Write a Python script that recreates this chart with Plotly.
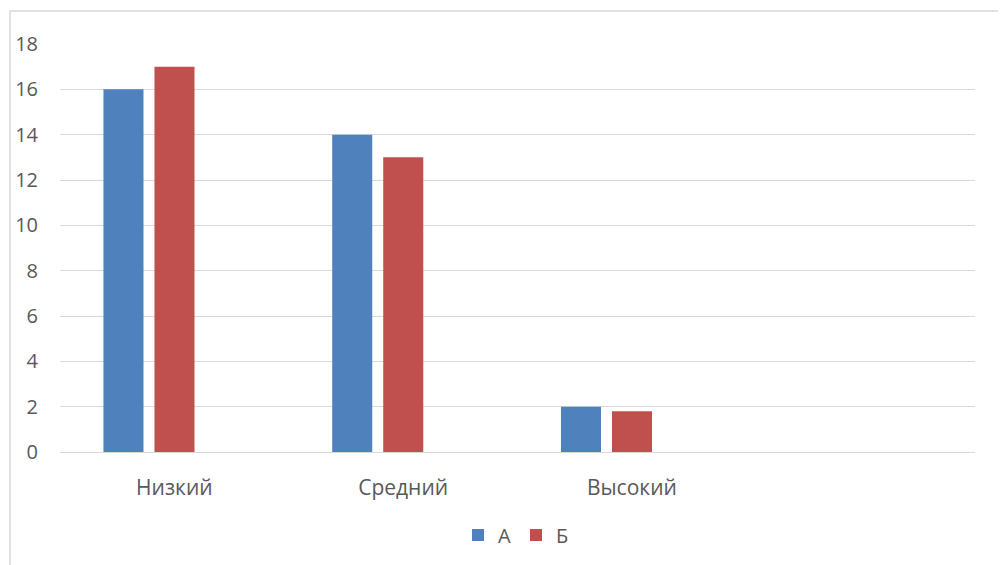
import plotly.graph_objects as go

categories = ["Низкий", "Средний", "Высокий"]
series_a = [16, 14, 2]
series_b = [17, 13, 1.8]
y_ticks = [0, 2, 4, 6, 8, 10, 12, 14, 16, 18]

OFF = 8  # page body margin
W, H = 1006 - OFF, 565 - OFF
L, T = 60 - OFF, 44 - OFF
R = W - (975 - OFF)
B = H - (452 - OFF)
pw, ph = W - L - R, H - T - B

fig = go.Figure()
fig.add_trace(go.Bar(name="А", x=categories, y=series_a, marker_color="#4F81BD",
                     marker_line_width=0, width=0.175, offset=-0.31))
fig.add_trace(go.Bar(name="Б", x=categories, y=series_b, marker_color="#C0504D",
                     marker_line_width=0, width=0.175, offset=-0.087))

def px_x(p):
    return (p - OFF - L) / pw

def px_y(p):
    return (H - B - (p - OFF)) / ph

fig.add_shape(type="rect", xref="paper", yref="paper",
              x0=px_x(10), x1=px_x(1020), y0=px_y(11), y1=px_y(590),
              line=dict(color="#d9d9d9", width=1.5), fillcolor="rgba(0,0,0,0)", layer="below")

fig.update_layout(
    width=W, height=H,
    margin=dict(l=L, r=R, t=T, b=B, autoexpand=False),
    paper_bgcolor="white", plot_bgcolor="white",
    font=dict(family="Open Sans, Noto Sans, sans-serif", size=21, color="#595959"),
    showlegend=True,
    legend=dict(orientation="h", x=px_x(516), xanchor="center", y=px_y(535), yanchor="middle",
                font=dict(size=20, color="#595959"), itemwidth=30, traceorder="normal"),
    xaxis=dict(type="category", categoryorder="array", categoryarray=categories,
               range=[-0.5, 3.5], showgrid=False, showline=False, zeroline=False,
               automargin=False,
               ticks="outside", ticklen=17, tickcolor="rgba(0,0,0,0)", fixedrange=True),
    yaxis=dict(range=[0, 18], tickvals=y_ticks, showgrid=True, gridcolor="#d9d9d9",
               gridwidth=1, zeroline=True, zerolinecolor="#d9d9d9", zerolinewidth=1,
               automargin=False, tickfont=dict(size=20),
               showline=False, ticks="outside", ticklen=17, tickcolor="rgba(0,0,0,0)"),
)

fig.write_html("out.html")
